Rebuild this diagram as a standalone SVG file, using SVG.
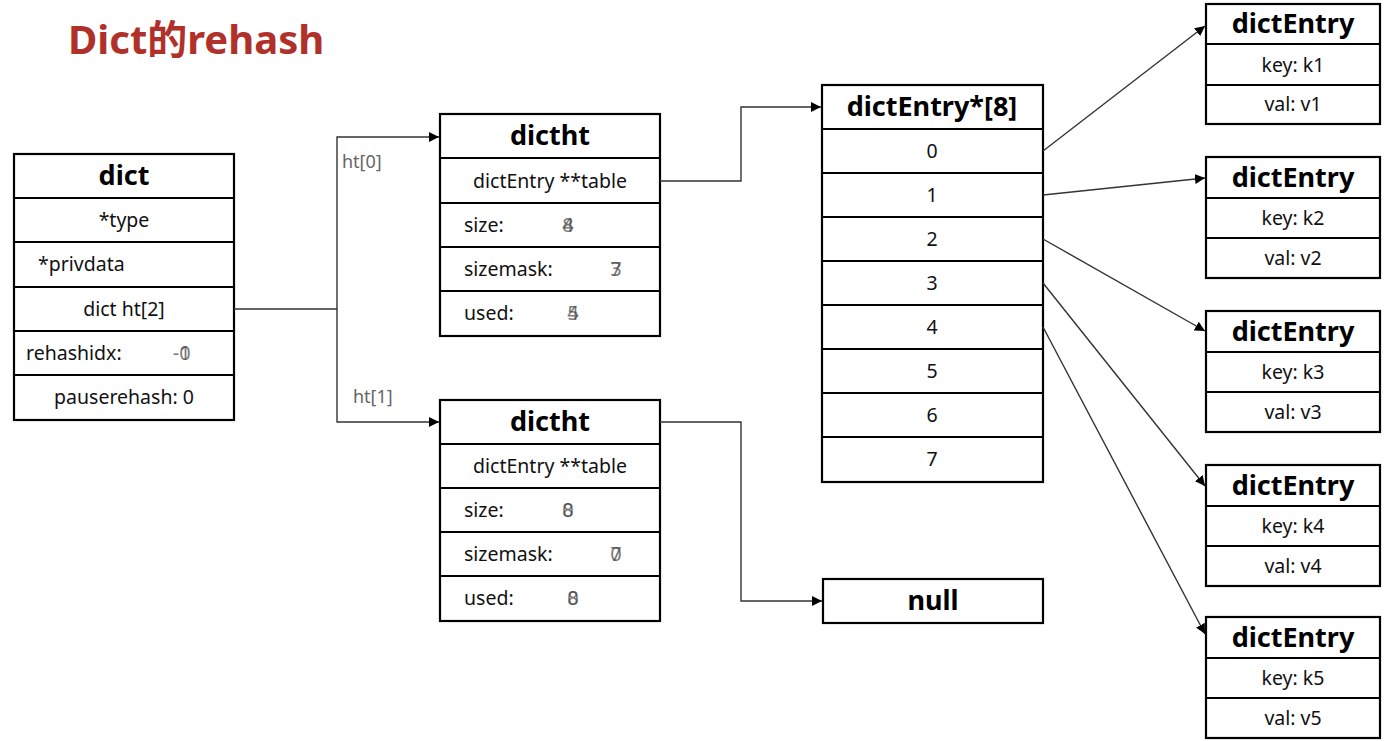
<svg xmlns="http://www.w3.org/2000/svg" width="1387" height="741" viewBox="0 0 1387 741">
<style>
.box{fill:#fff;stroke:#000;stroke-width:2.2}
.sep{stroke:#000;stroke-width:2}
.h{font-family:"Noto Sans","Noto Sans CJK SC",sans-serif;font-weight:bold;font-size:27px;fill:#000;text-anchor:middle}
.t{font-family:"Noto Sans","Noto Sans CJK SC",sans-serif;font-size:19.5px;fill:#111}
.c{text-anchor:middle}
.v{font-family:"Noto Sans","Noto Sans CJK SC",sans-serif;font-size:20px;fill:#444;opacity:0.7;text-anchor:middle}
.lbl{font-family:"Noto Sans","Noto Sans CJK SC",sans-serif;font-size:18px;fill:#666}
.con{fill:none;stroke:#333;stroke-width:1.4}
.title{font-family:"Noto Sans","Noto Sans CJK SC",sans-serif;font-weight:bold;font-size:40px;fill:#b0302a}
</style>
<defs>
<marker id="arr" viewBox="0 0 10 10" refX="10" refY="5" markerWidth="10" markerHeight="10" markerUnits="userSpaceOnUse" orient="auto">
<path d="M0,0 L10,5 L0,10 z" fill="#000"/>
</marker>
</defs>
<rect width="1387" height="741" fill="#fff"/>
<text class="title" x="68" y="54">Dict的rehash</text>

<g id="dict">
<rect class="box" x="14" y="154" width="220" height="266"/>
<line class="sep" x1="14" y1="198" x2="234" y2="198"/>
<line class="sep" x1="14" y1="242" x2="234" y2="242"/>
<line class="sep" x1="14" y1="287" x2="234" y2="287"/>
<line class="sep" x1="14" y1="331" x2="234" y2="331"/>
<line class="sep" x1="14" y1="375" x2="234" y2="375"/>
<text class="h" x="124" y="185">dict</text>
<text class="t c" x="124" y="227">*type</text>
<text class="t" x="38" y="271">*privdata</text>
<text class="t c" x="124" y="316">dict ht[2]</text>
<text class="t" x="26" y="360">rehashidx:</text>
<text class="v" x="176" y="360">-</text>
<text class="v" x="185" y="360">1</text>
<text class="v" x="185" y="360">0</text>
<text class="t c" x="124" y="404">pauserehash: 0</text>
</g>

<g id="dictht0">
<rect class="box" x="440" y="114" width="220" height="222"/>
<line class="sep" x1="440" y1="158" x2="660" y2="158"/>
<line class="sep" x1="440" y1="203" x2="660" y2="203"/>
<line class="sep" x1="440" y1="247" x2="660" y2="247"/>
<line class="sep" x1="440" y1="291" x2="660" y2="291"/>
<text class="h" x="550" y="145">dictht</text>
<text class="t c" x="550" y="188">dictEntry **table</text>
<text class="t" x="464" y="232">size:</text>
<text class="v" x="568" y="232">8</text>
<text class="v" x="568" y="232">4</text>
<text class="t" x="464" y="276">sizemask:</text>
<text class="v" x="616" y="276">7</text>
<text class="v" x="616" y="276">3</text>
<text class="t" x="464" y="320">used:</text>
<text class="v" x="573" y="320">4</text>
<text class="v" x="573" y="320">5</text>
</g>

<g id="dictht1">
<rect class="box" x="440" y="400" width="220" height="221"/>
<line class="sep" x1="440" y1="444" x2="660" y2="444"/>
<line class="sep" x1="440" y1="488" x2="660" y2="488"/>
<line class="sep" x1="440" y1="532" x2="660" y2="532"/>
<line class="sep" x1="440" y1="576" x2="660" y2="576"/>
<text class="h" x="550" y="431">dictht</text>
<text class="t c" x="550" y="473">dictEntry **table</text>
<text class="t" x="464" y="517">size:</text>
<text class="v" x="568" y="517">0</text>
<text class="v" x="568" y="517">8</text>
<text class="t" x="464" y="561">sizemask:</text>
<text class="v" x="616" y="561">0</text>
<text class="v" x="616" y="561">7</text>
<text class="t" x="464" y="605">used:</text>
<text class="v" x="573" y="605">0</text>
<text class="v" x="573" y="605">8</text>
</g>

<g id="table8">
<rect class="box" x="822" y="85" width="221" height="397"/>
<line class="sep" x1="822" y1="129" x2="1043" y2="129"/>
<line class="sep" x1="822" y1="173" x2="1043" y2="173"/>
<line class="sep" x1="822" y1="217" x2="1043" y2="217"/>
<line class="sep" x1="822" y1="261" x2="1043" y2="261"/>
<line class="sep" x1="822" y1="305" x2="1043" y2="305"/>
<line class="sep" x1="822" y1="349" x2="1043" y2="349"/>
<line class="sep" x1="822" y1="393" x2="1043" y2="393"/>
<line class="sep" x1="822" y1="437" x2="1043" y2="437"/>
<text class="h" x="932" y="116">dictEntry*[8]</text>
<text class="t c" x="932" y="158">0</text>
<text class="t c" x="932" y="202">1</text>
<text class="t c" x="932" y="246">2</text>
<text class="t c" x="932" y="290">3</text>
<text class="t c" x="932" y="334">4</text>
<text class="t c" x="932" y="378">5</text>
<text class="t c" x="932" y="422">6</text>
<text class="t c" x="932" y="466">7</text>
</g>

<g id="null">
<rect class="box" x="823" y="579" width="220" height="44"/>
<text class="h" x="933" y="610">null</text>
</g>

<g id="entry1">
<rect class="box" x="1206" y="4" width="174" height="120"/>
<line class="sep" x1="1206" y1="44" x2="1380" y2="44"/>
<line class="sep" x1="1206" y1="85" x2="1380" y2="85"/>
<text class="h" x="1293" y="33">dictEntry</text>
<text class="t c" x="1293" y="72">key: k1</text>
<text class="t c" x="1293" y="111">val: v1</text>
</g>
<g id="entry2">
<rect class="box" x="1206" y="157" width="174" height="121"/>
<line class="sep" x1="1206" y1="198" x2="1380" y2="198"/>
<line class="sep" x1="1206" y1="238" x2="1380" y2="238"/>
<text class="h" x="1293" y="187">dictEntry</text>
<text class="t c" x="1293" y="225">key: k2</text>
<text class="t c" x="1293" y="265">val: v2</text>
</g>
<g id="entry3">
<rect class="box" x="1206" y="311" width="174" height="121"/>
<line class="sep" x1="1206" y1="352" x2="1380" y2="352"/>
<line class="sep" x1="1206" y1="392" x2="1380" y2="392"/>
<text class="h" x="1293" y="341">dictEntry</text>
<text class="t c" x="1293" y="379">key: k3</text>
<text class="t c" x="1293" y="419">val: v3</text>
</g>
<g id="entry4">
<rect class="box" x="1206" y="465" width="174" height="121"/>
<line class="sep" x1="1206" y1="506" x2="1380" y2="506"/>
<line class="sep" x1="1206" y1="546" x2="1380" y2="546"/>
<text class="h" x="1293" y="495">dictEntry</text>
<text class="t c" x="1293" y="533">key: k4</text>
<text class="t c" x="1293" y="573">val: v4</text>
</g>
<g id="entry5">
<rect class="box" x="1206" y="617" width="174" height="121"/>
<line class="sep" x1="1206" y1="658" x2="1380" y2="658"/>
<line class="sep" x1="1206" y1="698" x2="1380" y2="698"/>
<text class="h" x="1293" y="647">dictEntry</text>
<text class="t c" x="1293" y="685">key: k5</text>
<text class="t c" x="1293" y="725">val: v5</text>
</g>

<g id="connectors">
<path class="con" d="M234,309 H337"/>
<path class="con" d="M337,309 V137 H439" marker-end="url(#arr)"/>
<path class="con" d="M337,309 V422 H439" marker-end="url(#arr)"/>
<path class="con" d="M660,181 H741 V107 H821" marker-end="url(#arr)"/>
<path class="con" d="M660,422 H741 V601 H822" marker-end="url(#arr)"/>
<path class="con" d="M1043,151 L1205,26" marker-end="url(#arr)"/>
<path class="con" d="M1043,195 L1205,178" marker-end="url(#arr)"/>
<path class="con" d="M1043,239 L1205,331" marker-end="url(#arr)"/>
<path class="con" d="M1043,283 L1205,486" marker-end="url(#arr)"/>
<path class="con" d="M1043,327 L1205,634" marker-end="url(#arr)"/>
<text class="lbl" x="342" y="168">ht[0]</text>
<text class="lbl" x="353" y="403">ht[1]</text>
</g>
</svg>
